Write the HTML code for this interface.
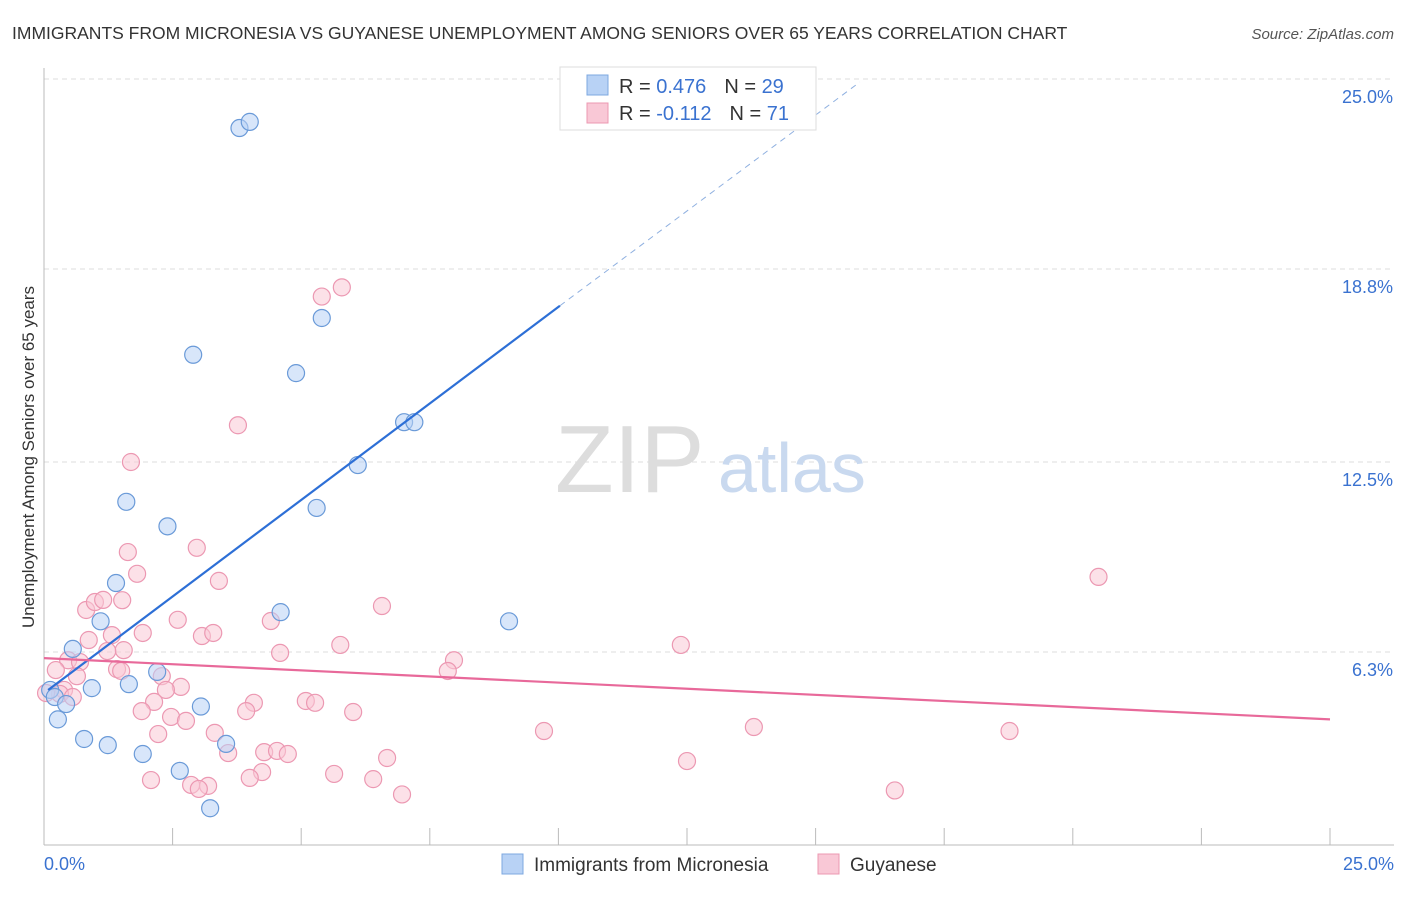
<!DOCTYPE html>
<html><head><meta charset="utf-8"><style>
body{margin:0;background:#fff;font-family:"Liberation Sans",sans-serif;}
svg text{font-family:"Liberation Sans",sans-serif;}
</style></head><body>
<svg id="chart" width="1406" height="892" xmlns="http://www.w3.org/2000/svg">
<text x="12" y="39" font-size="17.5" fill="#333">IMMIGRANTS FROM MICRONESIA VS GUYANESE UNEMPLOYMENT AMONG SENIORS OVER 65 YEARS CORRELATION CHART</text>
<text x="1394" y="39" font-size="15" fill="#555" font-style="italic" text-anchor="end">Source: ZipAtlas.com</text>
<g id="grid"></g>
<g id="axes"></g>
<text x="555" y="492" font-size="96" fill="#ddd" font-family="Liberation Serif">ZIP</text>
<text x="718" y="492" font-size="70" fill="#c9d9ef">atlas</text>
<g id="marks"></g>
<text transform="translate(34,457) rotate(-90)" font-size="17" fill="#333" text-anchor="middle">Unemployment Among Seniors over 65 years</text>
<g>
<rect x="560" y="67" width="256" height="63" fill="#fff" stroke="#ddd"/>
<rect x="587" y="75" width="21" height="20" fill="#b8d2f5" stroke="#7ea8e0"/>
<rect x="587" y="103" width="21" height="20" fill="#f9c8d6" stroke="#ec98b2"/>
<text x="619" y="93" font-size="20" fill="#333">R = <tspan fill="#3a72d0">0.476</tspan><tspan dx="18">N = </tspan><tspan fill="#3a72d0">29</tspan></text>
<text x="619" y="120" font-size="20" fill="#333">R = <tspan fill="#3a72d0">-0.112</tspan><tspan dx="18">N = </tspan><tspan fill="#3a72d0"> 71</tspan></text>
</g>
<g>
<rect x="502" y="854" width="21" height="20" fill="#b8d2f5" stroke="#7ea8e0"/>
<text x="534" y="871" font-size="19" fill="#333">Immigrants from Micronesia</text>
<rect x="818" y="854" width="21" height="20" fill="#f9c8d6" stroke="#ec98b2"/>
<text x="850" y="871" font-size="19" fill="#333">Guyanese</text>
</g>
</svg>
<script>
const yTicks=[25.0,18.8,12.5,6.3];
const yTickLabels=["25.0%","18.8%","12.5%","6.3%"];
const xTickLabels=["0.0%","25.0%"];
const blueX=[3.8,4.0,2.9,4.9,5.4,7.0,7.2,6.1,5.3,1.6,2.4,1.4,1.1,4.6,9.04,0.56,2.2,1.65,0.93,0.12,0.21,0.43,0.27,3.05,0.78,1.24,1.92,3.54,2.64,3.23];
const blueY=[23.4,23.6,16.0,15.4,17.2,13.8,13.8,12.4,11.0,11.2,10.4,8.55,7.3,7.6,7.3,6.4,5.65,5.25,5.12,5.06,4.83,4.6,4.1,4.52,3.46,3.26,2.97,3.3,2.42,1.2];
const pinkX=[5.79,5.4,3.77,1.69,2.97,1.63,1.81,3.4,20.5,6.57,0.82,0.99,1.15,1.52,2.6,4.41,1.32,1.92,3.07,3.29,0.87,5.76,12.38,1.55,1.23,4.59,0.47,0.7,7.97,7.85,0.23,1.42,1.5,0.64,2.29,2.66,2.37,0.39,0.31,0.04,0.56,2.14,4.08,5.09,5.27,1.9,2.47,2.76,3.93,6.01,3.32,2.22,9.72,13.8,18.77,4.28,4.53,4.74,6.67,12.5,5.64,4.24,2.08,6.4,4.0,2.86,3.19,3.01,6.96,16.54,3.58];
const pinkY=[18.2,17.9,13.7,12.5,9.7,9.56,8.85,8.62,8.75,7.8,7.67,7.93,8.0,7.99,7.35,7.31,6.85,6.92,6.82,6.92,6.69,6.53,6.53,6.36,6.33,6.27,6.03,5.97,6.03,5.68,5.71,5.74,5.68,5.51,5.51,5.16,5.06,5.06,4.93,4.96,4.83,4.67,4.64,4.7,4.64,4.37,4.18,4.05,4.37,4.34,3.66,3.62,3.72,3.85,3.72,3.03,3.07,2.97,2.84,2.74,2.32,2.38,2.12,2.15,2.19,1.96,1.93,1.83,1.65,1.78,3.0];
const blueLine=[[0.08,5.06],[10.03,17.6]];
const blueDash=[[10.03,17.6],[15.86,24.9]];
const pinkLine=[[0,6.1],[25,4.1]];
const NS="http://www.w3.org/2000/svg";
const X0=44,X1=1330,Y0=845,Y1=79;
function sx(v){return X0+(X1-X0)*v/25;}
function sy(v){return Y0-(Y0-Y1)*v/25;}
function mk(t,a,p){const e=document.createElementNS(NS,t);for(const k in a)e.setAttribute(k,a[k]);p.appendChild(e);return e;}
const grid=document.getElementById('grid'),axes=document.getElementById('axes'),marks=document.getElementById('marks');
yTicks.forEach((t,i)=>{
 const l=mk('line',{x1:X0,x2:1394,y1:sy(t),y2:sy(t),stroke:'#ddd','stroke-dasharray':'5,4'},grid);
 
 
 const tx=mk('text',{x:1393,y:sy(t)+24,'font-size':18,fill:'#3a72d0','text-anchor':'end'},axes);
 tx.textContent=yTickLabels[i];
 
 
});
const ax=mk('line',{x1:X0,x2:X0,y1:68,y2:Y0,stroke:'#bbb'},axes);


const bx=mk('line',{x1:X0,x2:1394,y1:Y0,y2:Y0,stroke:'#bbb'},axes);


for(let i=1;i<=10;i++){const t=mk('line',{x1:sx(i*2.5),x2:sx(i*2.5),y1:Y0,y2:828,stroke:'#bbb'},axes);
 
 }
[[0,'start',44],[25,'end',1394]].forEach((d,i)=>{const t=mk('text',{x:d[2],y:870,'font-size':18,fill:'#3a72d0','text-anchor':d[1]},axes);t.textContent=xTickLabels[i];
 
 });
function pts(xs,ys,fill,stroke,name){xs.forEach((v,i)=>{const c=mk('circle',{cx:sx(v),cy:sy(ys[i]),r:8.5,fill:fill,'fill-opacity':0.55,stroke:stroke,'stroke-width':1.2},marks);
 
 });}
pts(pinkX,pinkY,'#f9c8d6','#ec98b2','guyanese-point');
pts(blueX,blueY,'#b8d2f5','#6a9ad8','micronesia-point');
const l1=mk('line',{x1:sx(blueLine[0][0]),y1:sy(blueLine[0][1]),x2:sx(blueLine[1][0]),y2:sy(blueLine[1][1]),stroke:'#2d6fd6','stroke-width':2.2},marks);


const l2=mk('line',{x1:sx(blueDash[0][0]),y1:sy(blueDash[0][1]),x2:sx(blueDash[1][0]),y2:sy(blueDash[1][1]),stroke:'#8fb0e0','stroke-width':1,'stroke-dasharray':'6,5'},marks);


const l3=mk('line',{x1:sx(pinkLine[0][0]),y1:sy(pinkLine[0][1]),x2:sx(pinkLine[1][0]),y2:sy(pinkLine[1][1]),stroke:'#e8699a','stroke-width':2.2},marks);


</script>
</body></html>
